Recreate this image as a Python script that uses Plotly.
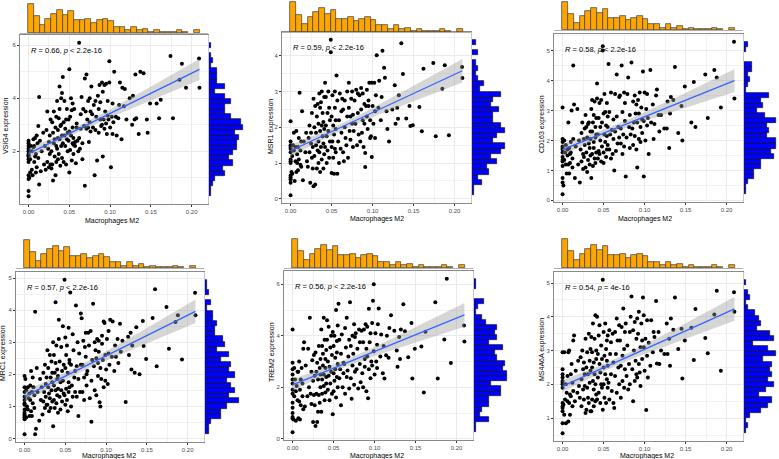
import numpy as np
import plotly.graph_objects as go

W, H = 779, 459

# ---------------- data ----------------
X = [
    0, 0, 0, 0, 0, 0, 0, 0, 0, 0, 0, 0, 0, 0, 0.001, 0.002, 0.002, 0.003, 0.004, 0.004, 0.005, 0.006, 0.006,
    0.007, 0.007, 0.008, 0.008, 0.009, 0.009, 0.010, 0.010, 0.011, 0.012, 0.012, 0.013, 0.013,
    0.014, 0.015, 0.016, 0.018, 0.019, 0.020,
    0.021, 0.022, 0.023, 0.023, 0.024, 0.025, 0.025, 0.026, 0.026, 0.027, 0.027,
    0.028, 0.028, 0.029, 0.029, 0.030, 0.030, 0.031, 0.031, 0.032, 0.032, 0.033, 0.033, 0.034, 0.034, 0.034,
    0.035, 0.035, 0.036, 0.036, 0.036, 0.037, 0.037, 0.038, 0.038, 0.038, 0.039, 0.039, 0.040, 0.040, 0.040, 0.041, 0.041, 0.041,
    0.042, 0.042, 0.043, 0.043, 0.044, 0.044, 0.045, 0.045, 0.046, 0.046, 0.047, 0.047, 0.048, 0.048,
    0.049, 0.049, 0.050, 0.050, 0.050, 0.051, 0.051, 0.052, 0.052, 0.053, 0.053, 0.054, 0.054, 0.054, 0.055, 0.055, 0.055,
    0.056, 0.057, 0.057, 0.058, 0.059, 0.059, 0.060, 0.061, 0.062, 0.062,
    0.063, 0.064, 0.064, 0.065, 0.066, 0.066, 0.067, 0.068, 0.069, 0.069,
    0.070, 0.071, 0.071, 0.072, 0.073, 0.073, 0.074, 0.075, 0.075, 0.076, 0.076,
    0.077, 0.078, 0.079, 0.080, 0.081, 0.082, 0.082, 0.083,
    0.084, 0.085, 0.086, 0.086, 0.087, 0.088, 0.088, 0.089, 0.090, 0.090,
    0.091, 0.091, 0.092, 0.093, 0.093, 0.094, 0.095, 0.095, 0.096, 0.097, 0.097,
    0.098, 0.099, 0.099, 0.100, 0.101, 0.102, 0.103, 0.103, 0.104,
    0.105, 0.107, 0.108, 0.110, 0.111,
    0.112, 0.114, 0.115, 0.117, 0.118,
    0.120, 0.124,
    0.127, 0.128, 0.130, 0.131, 0.132,
    0.135, 0.137,
    0.141, 0.145, 0.146, 0.149, 0.157, 0.160, 0.162, 0.174, 0.177, 0.185, 0.188, 0.193, 0.209, 0.2095,
]

Y_VSIG4 = [
    0.3, 0.5, 0.95, 1.1, 1.6, 1.7, 1.8, 1.9, 2.0, 2.1, 2.2, 2.3, 2.4, 1.85, 1.0, 1.2, 1.7, 2.2, 1.3, 2.0, 1.1, 2.15, 2.45,
    1.6, 2.2, 1.8, 2.5, 1.2, 1.9, 2.6, 1.4, 2.3, 1.75, 2.95, 4.05, 0.75,
    2.4, 1.25, 2.0, 2.7, 1.5, 2.2,
    1.3, 2.8, 1.6, 3.5, 2.1, 1.4, 2.35, 1.9, 2.6, 1.5, 3.2,
    1.35, 2.0, 3.1, 1.5, 2.7, 0.9, 2.3, 3.5, 1.8, 2.45, 1.1, 2.9, 3.3, 2.2, 1.6,
    2.1, 3.9, 1.7, 2.8, 2.5, 3.25, 1.9, 4.45, 2.45, 3.6, 1.45, 2.95, 4.0, 2.2, 3.0, 2.6, 1.75, 4.2,
    4.8, 2.3, 3.1, 1.6, 2.6, 3.9, 2.2, 2.85, 3.2, 1.5, 2.45, 3.6, 2.0, 2.7,
    3.2, 2.4, 1.2, 5.1, 2.75, 3.3, 2.05, 4.0, 2.6, 1.65, 3.55, 2.3, 2.9, 3.8, 1.9, 2.5, 2.25,
    3.6, 2.35, 2.2, 1.55, 3.05, 2.9, 2.4, 2.0, 6.1, 2.5,
    2.1, 3.4, 2.85, 4.05, 2.3, 1.7, 3.6, 2.95, 4.75, 0.7,
    3.5, 4.9, 2.85, 3.2, 2.9, 3.9, 2.35, 3.1, 4.0, 2.75, 3.5,
    4.45, 3.4, 2.9, 3.75, 1.1, 2.8, 3.9, 3.3,
    1.65, 4.1, 3.6, 2.7, 4.5, 3.2, 3.85, 2.95, 4.6, 3.0,
    4.25, 1.8, 3.2, 4.5, 2.85, 3.5, 3.05, 4.55, 2.65, 3.35, 3.9,
    3.2, 4.6, 5.4, 2.9, 1.4, 3.3, 3.8, 2.65, 3.1,
    5.0, 3.3, 2.6, 3.25, 3.75,
    4.6, 2.45, 4.4, 3.7, 4.35,
    3.2, 4.0,
    3.0, 4.1, 3.2, 4.9, 3.25,
    2.65, 5.0,
    4.95, 3.2, 2.7, 3.8, 3.8, 3.25, 3.95, 5.6, 3.25, 4.7, 5.3, 4.4, 5.5, 4.4,
]

Y_MSR1 = [
    0.1, 0.45, 0.55, 0.6, 1.0, 1.05, 1.1, 1.3, 1.4, 1.5, 1.6, 2.17, 0.65, 1.45, 0.75, 1.2, 0.7, 1.5, 1.35, 1.85, 0.5, 1.45, 1.05,
    1.9, 0.75, 1.25, 1.0, 1.45, 0.8, 1.7, 1.1, 2.97, 0.95, 1.35, 1.6, 0.9,
    2.45, 0.52, 1.6, 1.3, 1.85, 1.05,
    0.9, 1.7, 1.3, 2.05, 0.45, 1.55, 1.85, 1.15, 2.4, 1.45, 0.85,
    0.35, 2.8, 1.2, 2.0, 0.4, 2.6, 1.5, 1.85, 0.85, 2.3, 1.35, 2.65, 1.0, 1.6, 2.1,
    2.95, 1.3, 2.55, 0.75, 1.9, 2.7, 1.45, 2.05, 3.0, 1.1, 1.75, 2.4, 0.85, 2.15, 1.55, 2.85, 1.25, 1.95,
    3.25, 1.45, 2.05, 2.85, 1.0, 1.75, 2.4, 1.35, 1.9, 3.0, 1.15, 2.55, 1.6, 2.2,
    4.45, 4.1, 0.72, 1.45, 2.3, 1.6, 2.9, 1.15, 2.05, 0.7, 1.8, 2.55, 1.4, 3.0, 1.95, 2.2, 1.3,
    3.45, 0.7, 2.75, 1.6, 2.2, 1.0, 2.95, 1.4, 2.45, 1.85,
    2.8, 1.3, 2.5, 1.05, 2.0, 2.75, 1.7, 1.5, 3.0, 2.3,
    1.15, 2.55, 3.25, 1.9, 2.3, 1.65, 2.8, 2.1, 3.0, 1.45, 2.35,
    1.9, 2.75, 2.1, 3.05, 1.5, 2.4, 2.95, 1.8,
    2.9, 1.6, 2.5, 3.1, 1.85, 2.2, 2.95, 1.45, 2.65, 2.1,
    0.89, 1.28, 2.6, 3.05, 2.3, 1.95, 2.75, 2.6, 3.25, 1.7, 2.2,
    1.75, 1.17, 3.25, 2.6, 2.1, 3.25, 1.7, 2.45, 2.9,
    4.02, 2.55, 3.3, 2.2, 2.85,
    4.14, 3.67, 3.39, 2.45, 1.95,
    1.6, 2.5,
    3.18, 2.1, 2.55, 2.24, 2.9,
    4.35, 3.49,
    2.25, 2.6, 2.04, 2.06, 2.57, 1.89, 3.64, 3.8, 1.75, 3.08, 3.74, 1.78, 3.69, 3.38,
]

Y_CD163 = [
    0.2, 0.6, 0.75, 1.15, 1.3, 1.35, 1.6, 1.7, 1.75, 1.8, 2.05, 3.1, 1.45, 1.95, 0.5, 2.0, 1.35, 1.6, 1.2, 1.85, 0.9, 1.7, 1.5,
    2.6, 1.2, 1.75, 0.9, 1.55, 1.25, 1.95, 1.6, 3.0, 1.4, 1.1, 2.05, 4.5,
    3.2, 0.75, 1.8, 3.05, 1.2, 2.0,
    0.6, 1.7, 2.25, 1.3, 2.6, 1.55, 1.05, 2.05, 1.45, 1.85, 2.4,
    2.85, 1.1, 2.45, 1.6, 2.1, 0.95, 2.55, 1.35, 1.9, 2.6, 1.2, 1.75, 2.3, 1.5, 2.05,
    0.75, 3.05, 1.55, 2.3, 3.35, 1.15, 2.6, 1.95, 2.85, 1.75, 3.3, 1.4, 2.45, 2.1, 1.25, 2.75, 1.6, 2.2,
    3.9, 3.4, 1.4, 2.2, 1.65, 2.75, 3.25, 1.55, 2.0, 2.45, 1.3, 3.35, 1.8, 2.6,
    5.15, 5.0, 1.25, 2.9, 1.6, 3.55, 2.2, 1.95, 2.95, 1.45, 2.5, 3.25, 1.7, 2.15, 2.8, 1.85, 2.45,
    4.55, 1.7, 2.95, 2.2, 1.4, 3.6, 2.35, 1.55, 2.7, 2.05,
    1.0, 3.55, 2.3, 1.65, 4.2, 2.8, 1.9, 2.45, 3.45, 2.1,
    3.5, 1.9, 2.4, 4.5, 1.55, 2.95, 2.2, 3.6, 1.8, 2.65, 3.25,
    0.8, 2.1, 3.55, 4.1, 2.45, 1.75, 2.85, 2.2,
    4.6, 2.4, 3.3, 1.85, 2.6, 3.5, 2.15, 2.9, 1.7, 3.2,
    1.1, 2.6, 3.35, 2.05, 2.9, 3.6, 2.45, 1.95, 3.1, 2.25, 2.7,
    4.3, 0.8, 2.65, 3.6, 2.0, 3.05, 2.5, 3.55, 2.75,
    1.55, 4.35, 2.6, 3.2, 2.05,
    2.55, 3.5, 3.7, 2.85, 2.3,
    2.85, 2.4,
    2.4, 3.3, 1.75, 2.9, 3.45,
    3.35, 4.45,
    2.25, 3.15, 2.0, 3.8, 2.6, 3.95, 2.45, 4.2, 2.75, 4.35, 4.1, 3.1, 5.3, 3.4,
]

Y_MRC1 = [
    0.13, 0.6, 0.65, 0.7, 0.8, 0.9, 1.05, 1.1, 1.3, 1.45, 1.6, 1.95, 0.75, 1.2, 1.85, 0.65, 1.5, 1.0, 1.6, 0.9, 1.25, 0.7, 1.4,
    1.65, 1.2, 2.1, 0.85, 1.45, 0.7, 1.9, 1.1, 1.6, 0.95, 1.35, 3.95, 0.13,
    0.3, 2.2, 1.45, 0.55, 1.85, 1.2,
    1.6, 0.75, 2.05, 1.15, 1.45, 2.3, 0.95, 1.7, 1.3, 1.9, 1.05,
    2.75, 1.05, 1.6, 2.2, 0.85, 1.4, 2.6, 1.25, 1.9, 0.95, 2.4, 1.5, 1.15, 1.75, 2.05,
    0.38, 3.0, 1.2, 2.6, 1.65, 2.05, 0.95, 2.35, 1.5, 4.25, 1.1, 2.9, 1.85, 1.35, 2.15, 0.8, 1.95, 1.55,
    3.7, 3.1, 1.3, 2.4, 1.75, 0.9, 2.85, 1.5, 2.1, 1.15, 3.5, 1.8, 2.3, 1.4,
    4.95, 1.35, 2.2, 3.15, 1.05, 2.6, 1.55, 2.9, 1.2, 2.05, 0.85, 1.75, 3.45, 1.45, 2.35, 1.6, 2.45,
    4.55, 1.0, 2.3, 1.65, 3.25, 1.3, 2.75, 1.9, 2.1, 1.45,
    4.15, 1.3, 2.25, 3.0, 0.7, 1.85, 2.65, 1.45, 3.9, 2.3,
    3.75, 1.45, 2.3, 3.05, 1.9, 1.2, 2.85, 2.55, 3.3, 1.65, 2.0,
    2.1, 3.3, 2.9, 1.25, 3.35, 0.52, 1.8, 2.45,
    4.2, 2.25, 1.5, 3.0, 2.75, 1.35, 2.5, 3.1, 1.95, 2.35,
    2.7, 3.05, 1.13, 1.0, 2.2, 1.85, 2.95, 3.2, 2.45, 1.6, 3.65,
    3.6, 2.6, 1.8, 2.15, 3.1, 1.7, 2.65, 3.35, 2.3,
    3.7, 2.55, 3.65, 2.1, 2.9,
    2.55, 3.1, 2.35, 3.58, 2.7,
    3.05, 1.14,
    3.17, 2.6, 3.3, 2.15, 2.9,
    2.05, 3.47,
    2.0, 3.66, 2.88, 2.48, 3.76, 4.65, 2.25, 4.1, 2.8, 3.63, 3.84, 2.46, 4.54, 3.84,
]

Y_TREM2 = [
    0.25, 0.8, 0.85, 1.0, 1.4, 1.75, 1.9, 2.15, 2.5, 2.7, 2.95, 4.25, 1.2, 2.3, 0.75, 2.75, 1.65, 2.3, 1.85, 0.7, 2.05, 1.5, 2.6,
    0.8, 2.6, 1.45, 3.0, 1.9, 0.75, 2.3, 1.3, 2.75, 1.65, 2.15, 1.15, 3.5,
    3.75, 1.25, 2.85, 1.65, 3.5, 2.0,
    4.7, 1.75, 2.6, 1.35, 3.05, 0.65, 2.25, 1.7, 3.25, 2.45, 1.3,
    0.5, 3.35, 1.75, 2.6, 0.65, 2.95, 1.05, 2.3, 3.6, 1.7, 2.75, 1.4, 3.1, 2.0, 2.5,
    1.05, 4.25, 2.3, 3.6, 1.75, 2.85, 3.3, 2.05, 4.7, 2.5, 1.5, 3.85, 2.75, 3.1, 1.8, 2.4, 3.45, 2.15,
    4.6, 3.85, 1.9, 3.0, 2.45, 4.35, 1.5, 2.8, 3.55, 2.15, 4.0, 2.6, 3.25, 1.75,
    0.95, 4.15, 2.55, 3.6, 1.85, 4.0, 2.25, 3.15, 2.7, 5.0, 1.6, 3.8, 2.4, 3.35, 2.0, 2.9, 4.4,
    5.25, 2.35, 3.85, 2.7, 1.3, 3.3, 4.05, 2.0, 2.95, 2.55,
    2.9, 4.3, 1.75, 3.55, 2.4, 4.7, 2.65, 3.2, 1.95, 3.85,
    5.3, 2.35, 3.6, 1.55, 4.0, 2.85, 3.3, 2.1, 4.45, 2.6, 3.95,
    4.1, 2.7, 3.5, 1.95, 4.25, 2.9, 3.75, 2.2,
    4.2, 2.55, 3.75, 2.0, 4.25, 3.1, 2.8, 4.45, 1.85, 3.5,
    4.35, 3.2, 1.57, 2.7, 5.05, 3.75, 2.35, 4.1, 3.0, 4.5, 2.85,
    5.36, 6.0, 3.4, 2.5, 4.1, 3.0, 3.65, 2.75, 4.45,
    5.06, 3.2, 4.05, 2.55, 3.6,
    2.34, 3.24, 4.0, 3.15, 4.3,
    4.8, 4.2,
    3.43, 2.8, 3.95, 3.1, 4.25,
    5.23, 4.18,
    3.17, 4.5, 2.34, 3.5, 3.58, 1.8, 4.16, 5.3, 2.34, 3.86, 6.22, 2.94, 4.4, 3.78,
]

Y_MS4A6A = [
    0.55, 0.85, 1.2, 1.3, 1.45, 1.9, 2.0, 2.05, 2.2, 2.3, 2.45, 2.95, 1.35, 2.1, 1.4, 2.95, 1.1, 1.55, 2.0, 0.85, 1.75, 2.25, 1.5,
    0.9, 2.95, 1.45, 3.0, 1.7, 1.1, 2.3, 1.65, 2.6, 1.35, 2.05, 1.8, 3.3,
    3.45, 1.5, 2.4, 1.75, 2.7, 1.95,
    1.6, 2.8, 1.35, 2.15, 3.0, 1.85, 2.45, 1.55, 2.65, 1.95, 2.3,
    1.15, 3.35, 1.25, 2.5, 1.9, 2.95, 1.6, 2.3, 3.5, 1.45, 2.7, 2.05, 1.2, 3.05, 2.4,
    1.2, 3.4, 2.5, 1.55, 2.95, 2.1, 3.8, 1.35, 2.65, 1.85, 3.35, 2.3, 1.5, 4.05, 2.0, 2.75, 1.7, 3.0,
    4.0, 1.55, 2.9, 2.2, 3.45, 1.75, 2.6, 3.75, 1.45, 2.35, 3.15, 2.0, 2.75, 1.9,
    5.1, 1.25, 2.5, 3.55, 2.0, 2.85, 1.6, 3.8, 2.3, 3.05, 1.45, 2.7, 2.15, 3.3, 1.9, 2.55, 3.45,
    2.05, 3.6, 1.55, 2.9, 3.25, 2.3, 1.8, 3.5, 2.65, 1.45,
    1.3, 3.55, 2.25, 2.9, 3.95, 1.75, 3.3, 2.5, 2.0, 3.75,
    3.3, 1.6, 2.55, 3.7, 2.1, 2.85, 4.25, 1.9, 3.05, 2.45, 3.55,
    3.8, 2.25, 3.15, 1.85, 2.6, 3.55, 2.0, 4.0,
    4.6, 2.45, 3.6, 1.5, 3.0, 2.1, 3.85, 2.7, 3.35, 2.3,
    3.95, 2.2, 3.5, 2.6, 4.15, 2.35, 3.1, 1.95, 3.8, 2.75, 3.3,
    4.57, 3.1, 4.05, 2.4, 3.35, 1.24, 2.85, 3.9, 2.2,
    3.23, 2.55, 3.9, 2.95, 3.55,
    3.4, 4.47, 2.62, 3.55, 2.6,
    3.0, 2.9,
    3.8, 2.9, 3.35, 2.55, 3.95,
    3.62, 4.57,
    3.05, 3.65, 2.17, 3.3, 3.68, 2.72, 4.23, 3.37, 2.92, 4.07, 4.77, 2.4, 4.73, 4.15,
]

GENES = ["VSIG4", "MSR1", "CD163", "MRC1", "TREM2", "MS4A6A"]
Y_SERIES = [Y_VSIG4, Y_MSR1, Y_CD163, Y_MRC1, Y_TREM2, Y_MS4A6A]
STAT_LABELS = [
    "<i>R</i> = 0.66, <i>p</i> &lt; 2.2e-16",
    "<i>R</i> = 0.59, <i>p</i> &lt; 2.2e-16",
    "<i>R</i> = 0.58, <i>p</i> &lt; 2.2e-16",
    "<i>R</i> = 0.57, <i>p</i> &lt; 2.2e-16",
    "<i>R</i> = 0.56, <i>p</i> &lt; 2.2e-16",
    "<i>R</i> = 0.54, <i>p</i> = 4e-16",
]
X_LABEL = "Macrophages M2"
X_TICKS = [0, 0.05, 0.10, 0.15, 0.20]
X_TICK_TEXT = ["0.00", "0.05", "0.10", "0.15", "0.20"]
Y_DTICK = [2, 1, 1, 1, 2, 1]

# ---------------- layout geometry (pixels) ----------------
PANELS = [
    dict(main=(20, 208, 35, 204), top=(2, 33), right=(209, 245), xt=(112, 221), yt=(6, 126)),
    dict(main=(282, 471, 32, 203), top=(0, 32), right=(472, 507), xt=(377, 219), yt=(271, 127)),
    dict(main=(554, 743, 34, 202), top=(0, 30), right=(744, 778), xt=(645, 219), yt=(542, 124)),
    dict(main=(16, 204, 272, 442), top=(238, 268), right=(205, 241), xt=(109, 456), yt=(3, 353)),
    dict(main=(284, 473, 271, 440), top=(237, 268), right=(474, 509), xt=(377, 455.5), yt=(272, 352)),
    dict(main=(554, 743, 272, 441), top=(237, 268), right=(744, 778), xt=(647, 456), yt=(542, 350)),
]

FONT = "Liberation Sans, Arial, Helvetica, sans-serif"


def xd(a, b):
    return [a / W, b / W]


def yd(t, b):
    return [1 - b / H, 1 - t / H]


fig = go.Figure()
layout = {}
annotations = []

x = np.array(X, dtype=float)
xmin, xmax = x.min(), x.max()
xspan = xmax - xmin
xrange_ = [xmin - 0.05 * xspan, xmax + 0.05 * xspan]

for i, (gene, Y, P) in enumerate(zip(GENES, Y_SERIES, PANELS)):
    y = np.array(Y, dtype=float)
    n = min(len(x), len(y))
    xx, yy = x[:n], y[:n]
    ymin, ymax = yy.min(), yy.max()
    yspan = ymax - ymin
    yrange_ = [ymin - 0.05 * yspan, ymax + 0.05 * yspan]

    m, t, r = 3 * i + 1, 3 * i + 2, 3 * i + 3

    def nm(k):
        return "" if k == 1 else str(k)
    xm, ym = "x" + nm(m), "y" + nm(m)
    xtn, ytn = "x" + nm(t), "y" + nm(t)
    xr, yr = "x" + nm(r), "y" + nm(r)

    # regression + 95% CI
    b1, b0 = np.polyfit(xx, yy, 1)
    xs = np.linspace(xx.min(), xx.max(), 80)
    fit = b0 + b1 * xs
    resid = yy - (b0 + b1 * xx)
    s = np.sqrt(np.sum(resid ** 2) / (n - 2))
    sxx = np.sum((xx - xx.mean()) ** 2)
    se = s * np.sqrt(1 / n + (xs - xx.mean()) ** 2 / sxx)
    tq = 1.971
    up, lo = fit + tq * se, fit - tq * se

    fig.add_trace(go.Scatter(x=xx, y=yy, mode="markers", xaxis=xm, yaxis=ym,
                             marker=dict(color="black", size=4), hoverinfo="skip"))
    fig.add_trace(go.Scatter(x=np.concatenate([xs, xs[::-1]]), y=np.concatenate([up, lo[::-1]]),
                             fill="toself", fillcolor="rgba(153,153,153,0.4)", line=dict(width=0),
                             mode="lines", xaxis=xm, yaxis=ym, hoverinfo="skip"))
    fig.add_trace(go.Scatter(x=xs, y=fit, mode="lines", line=dict(color="#3366FF", width=1.3),
                             xaxis=xm, yaxis=ym, hoverinfo="skip"))

    # marginal histograms
    fig.add_trace(go.Histogram(x=xx, xaxis=xtn, yaxis=ytn,
                               xbins=dict(start=-0.0003, end=0.2097, size=0.007),
                               marker=dict(color="#FFA500", line=dict(color="#3a3a3a", width=0.7)),
                               hoverinfo="skip"))
    bsize = yspan / 30 * 1.0001
    fig.add_trace(go.Histogram(y=yy, xaxis=xr, yaxis=yr,
                               ybins=dict(start=ymin - 1e-6, end=ymax + bsize, size=bsize),
                               marker=dict(color="#0000FF", line=dict(color="#111111", width=0.7)),
                               hoverinfo="skip"))

    L, R, T, B = P["main"]
    dt = Y_DTICK[i]
    layout["xaxis" + nm(m)] = dict(
        domain=xd(L, R), range=xrange_, anchor=ym, tickvals=X_TICKS, ticktext=X_TICK_TEXT,
        automargin=False,
        ticks="outside", ticklen=2, tickcolor="#333333", tickwidth=0.8,
        tickfont=dict(size=6, color="#4D4D4D", family=FONT),
        showgrid=True, gridcolor="#EBEBEB", gridwidth=0.8, zeroline=False,
        minor=dict(tickvals=[0.025, 0.075, 0.125, 0.175, 0.225], showgrid=True,
                   gridcolor="#F2F2F2", gridwidth=0.5, ticks=""),
        showline=True, mirror=True, linecolor="#8a8a8a", linewidth=0.8)
    layout["yaxis" + nm(m)] = dict(
        domain=yd(T, B), range=yrange_, anchor=xm, tick0=0, dtick=dt,
        automargin=False,
        ticks="outside", ticklen=2, tickcolor="#333333", tickwidth=0.8,
        tickfont=dict(size=6, color="#4D4D4D", family=FONT),
        showgrid=True, gridcolor="#EBEBEB", gridwidth=0.8, zeroline=False,
        minor=dict(tick0=dt / 2, dtick=dt, showgrid=True, gridcolor="#F2F2F2", gridwidth=0.5, ticks=""),
        showline=True, mirror=True, linecolor="#8a8a8a", linewidth=0.8)

    tt, tb = P["top"]
    layout["xaxis" + nm(t)] = dict(domain=xd(L, R), range=xrange_, anchor=ytn, showticklabels=False,
                                   automargin=False,
                                   showgrid=False, zeroline=False, ticks="", showline=True,
                                   linecolor="#b0b0b0", linewidth=1)
    layout["yaxis" + nm(t)] = dict(domain=yd(tt, tb), anchor=xtn, showticklabels=False, showgrid=False,
                                   automargin=False,
                                   zeroline=False, ticks="", showline=False, rangemode="tozero")

    rl, rr = P["right"]
    layout["xaxis" + nm(r)] = dict(domain=xd(rl, rr), anchor=yr, showticklabels=False, showgrid=False,
                                   automargin=False,
                                   zeroline=False, ticks="", showline=False, rangemode="tozero")
    layout["yaxis" + nm(r)] = dict(domain=yd(T, B), range=yrange_, anchor=xr, showticklabels=False,
                                   automargin=False,
                                   showgrid=False, zeroline=False, ticks="", showline=True,
                                   linecolor="#c8c8c8", linewidth=1)

    # stat label
    annotations.append(dict(text=STAT_LABELS[i], xref=xm, yref=ym, x=0, y=ymax,
                            xanchor="left", yanchor="top", yshift=-1, showarrow=False,
                            font=dict(size=7.5, color="black", family=FONT)))
    # axis titles
    ax, ay = P["xt"]
    annotations.append(dict(text=X_LABEL, xref="paper", yref="paper", x=ax / W, y=1 - ay / H,
                            xanchor="center", yanchor="middle", showarrow=False, borderpad=0,
                            font=dict(size=7, color="black", family=FONT)))
    bx, by = P["yt"]
    annotations.append(dict(text=gene + " expression", xref="paper", yref="paper", x=bx / W, y=1 - by / H,
                            xanchor="center", yanchor="middle", showarrow=False, textangle=-90, borderpad=0,
                            font=dict(size=7, color="black", family=FONT)))

fig.update_layout(
    width=W, height=H, margin=dict(l=0, r=0, t=0, b=0, pad=0),
    paper_bgcolor="white", plot_bgcolor="white", showlegend=False,
    bargap=0, annotations=annotations, **layout)

fig.write_html("out.html", config={"displayModeBar": False},
               post_script="document.body.style.margin='0px';document.body.style.padding='0px';")
